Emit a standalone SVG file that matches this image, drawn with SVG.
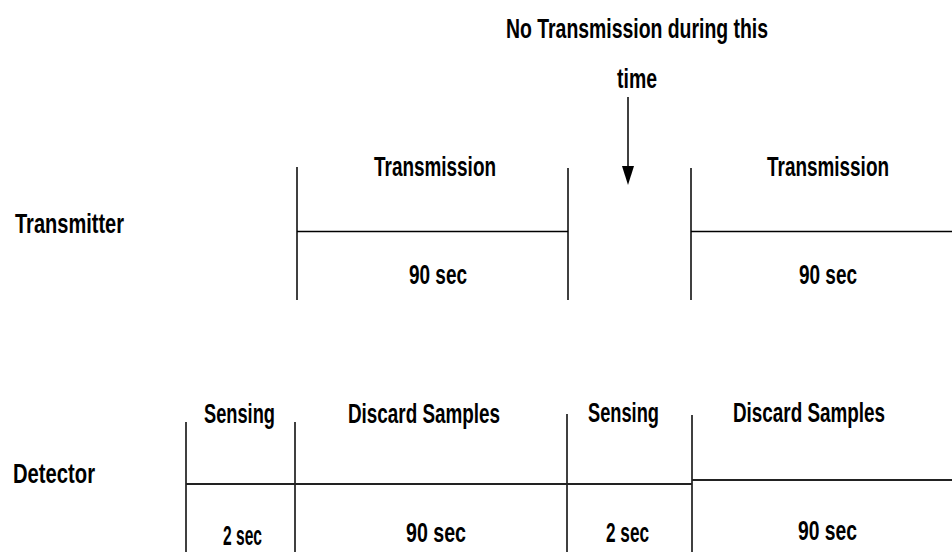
<svg xmlns="http://www.w3.org/2000/svg" width="952" height="552" viewBox="0 0 952 552">
<style>
  text { font-family: "Liberation Sans", Arial, sans-serif; font-weight: bold; font-size: 28px; fill: #000; }
  .ln { stroke: #000; stroke-width: 1.5; fill: none; }
  .dl { stroke: #222; stroke-width: 2.2; fill: none; }
</style>
<rect width="952" height="552" fill="#fff"/>
<g id="annotation">
  <text x="506" y="38" textLength="262" lengthAdjust="spacingAndGlyphs">No Transmission during this</text>
  <text x="617" y="88" textLength="40" lengthAdjust="spacingAndGlyphs">time</text>
</g>
<g id="transmitter">
  <text x="15" y="233" textLength="109" lengthAdjust="spacingAndGlyphs">Transmitter</text>
</g>
<g id="tx1">
  <text x="374" y="176" textLength="122" lengthAdjust="spacingAndGlyphs">Transmission</text>
  <text x="409" y="284" textLength="58" lengthAdjust="spacingAndGlyphs">90 sec</text>
</g>
<g id="tx2">
  <text x="767" y="176" textLength="122" lengthAdjust="spacingAndGlyphs">Transmission</text>
  <text x="799" y="284" textLength="58" lengthAdjust="spacingAndGlyphs">90 sec</text>
</g>
<g id="detector">
  <text x="13" y="483" textLength="82" lengthAdjust="spacingAndGlyphs">Detector</text>
</g>
<g id="sense1">
  <text x="204" y="423" textLength="71" lengthAdjust="spacingAndGlyphs">Sensing</text>
  <text x="223" y="545" textLength="39" lengthAdjust="spacingAndGlyphs">2 sec</text>
</g>
<g id="discard1">
  <text x="348" y="423" textLength="152" lengthAdjust="spacingAndGlyphs">Discard Samples</text>
  <text x="406" y="542" textLength="60" lengthAdjust="spacingAndGlyphs">90 sec</text>
</g>
<g id="sense2">
  <text x="588" y="422" textLength="71" lengthAdjust="spacingAndGlyphs">Sensing</text>
  <text x="606" y="542" textLength="43" lengthAdjust="spacingAndGlyphs">2 sec</text>
</g>
<g id="discard2">
  <text x="733" y="422" textLength="152" lengthAdjust="spacingAndGlyphs">Discard Samples</text>
  <text x="798" y="540" textLength="59" lengthAdjust="spacingAndGlyphs">90 sec</text>
</g>
<g id="connectors">
  <line class="ln" x1="628" y1="97" x2="628" y2="170"/>
  <polygon points="622,166 634,166 628,185" fill="#000"/>
  <line class="ln" x1="297" y1="167" x2="297" y2="300"/>
  <line class="ln" x1="568" y1="168" x2="568" y2="300"/>
  <line class="ln" x1="691" y1="168" x2="691" y2="300"/>
  <line class="ln" x1="297" y1="231.5" x2="568" y2="231.5"/>
  <line class="ln" x1="691" y1="231.5" x2="952" y2="231.5"/>
  <line class="ln" x1="186" y1="422" x2="186" y2="552"/>
  <line class="ln" x1="295" y1="422" x2="295" y2="552"/>
  <line class="ln" x1="567" y1="414" x2="567" y2="552"/>
  <line class="ln" x1="692" y1="415" x2="692" y2="552"/>
  <line class="dl" x1="186" y1="484" x2="692" y2="484"/>
  <line class="dl" x1="692" y1="480" x2="952" y2="480"/>
</g>
</svg>
